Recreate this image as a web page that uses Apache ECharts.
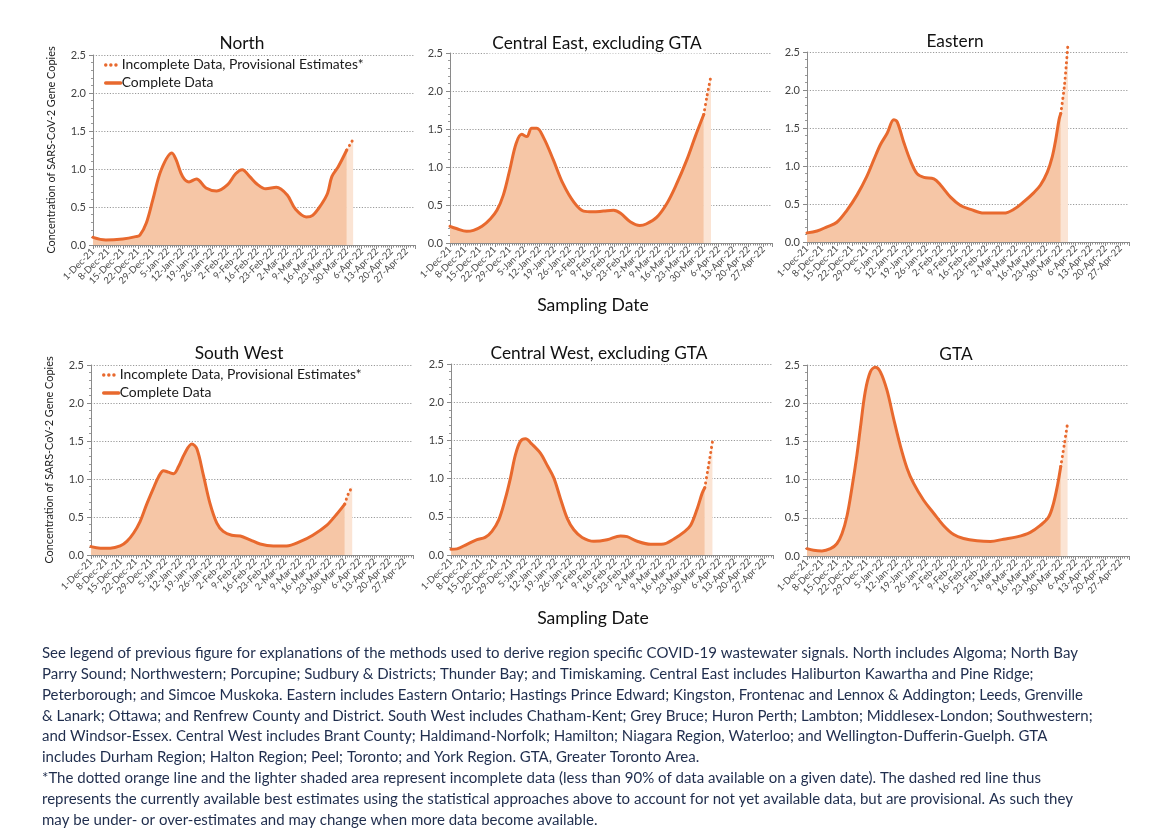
<!DOCTYPE html>
<html><head><meta charset="utf-8">
<script src="https://cdn.jsdelivr.net/npm/echarts@6/dist/echarts.min.js"></script>
<style>html,body{margin:0;padding:0;background:#fff}#c{width:1160px;height:829px}</style>
</head><body><div id="c"></div>
<script>
// ---------- tick labels ----------
const xTickLabels = ['1-Dec-21','8-Dec-21','15-Dec-21','22-Dec-21','29-Dec-21','5-Jan-22','12-Jan-22','19-Jan-22','26-Jan-22','2-Feb-22','9-Feb-22','16-Feb-22','23-Feb-22','2-Mar-22','9-Mar-22','16-Mar-22','23-Mar-22','30-Mar-22','6-Apr-22','13-Apr-22','20-Apr-22','27-Apr-22'];
const yTickValues = [0, 0.5, 1.0, 1.5, 2.0, 2.5];

// ---------- data (x = days since 1-Dec-21) ----------
const northDays = [0,6,14,20,22,25,28,32,37,39,42,45,48.5,53,58,63,67,70,73.5,77,81,86,91,95,100,103,107,110,112,115,119];
const northVals = [0.10,0.066,0.08,0.11,0.13,0.29,0.59,0.99,1.21,1.12,0.90,0.83,0.87,0.75,0.71,0.79,0.94,0.99,0.90,0.80,0.74,0.76,0.66,0.47,0.37,0.39,0.53,0.68,0.90,1.03,1.25];
const northIncDays = [119,120.5,122];
const northIncVals = [1.25,1.32,1.39];

const ceDays = [0,3,7.8,11,15,19,22,25,28,31,33.6,36,38.3,40.7,44,48.5,53,58,62.6,67,72,76.7,80,84.5,89,92,97,101.7,106,111,115,119];
const ceVals = [0.22,0.19,0.154,0.167,0.22,0.32,0.43,0.63,0.96,1.31,1.43,1.40,1.51,1.51,1.38,1.09,0.78,0.54,0.42,0.41,0.42,0.43,0.39,0.28,0.23,0.25,0.34,0.52,0.76,1.09,1.40,1.69];
const ceIncDays = [119,120.5,122.4];
const ceIncVals = [1.69,1.93,2.20];

const eDays = [0,4.7,9.4,14,18.8,23.5,28,31.3,34.4,37.6,40.7,42.3,45.4,48.5,51.6,54.8,59.5,62.6,67.3,72,76.7,82.9,87.6,92.3,97,101.7,106.4,109.5,112.7,115,116.6,118.2,119];
const eVals = [0.12,0.145,0.20,0.26,0.42,0.62,0.86,1.08,1.28,1.43,1.61,1.58,1.31,1.07,0.90,0.85,0.83,0.75,0.59,0.48,0.43,0.38,0.38,0.38,0.43,0.53,0.65,0.75,0.92,1.12,1.34,1.61,1.69];
const eIncDays = [119,120.7,122.4];
const eIncVals = [1.69,2.05,2.61];

const swDays = [0,4.4,9,13.7,16.8,20,23,26,29.3,31.7,34,36.3,38.7,41,44,47.3,49.6,52.7,55.8,59,62,66,70,74.6,79.3,85.5,91.7,98,104,110.5,115,119];
const swVals = [0.11,0.09,0.09,0.12,0.18,0.29,0.44,0.66,0.88,1.03,1.11,1.09,1.07,1.16,1.34,1.46,1.40,1.05,0.68,0.42,0.31,0.26,0.25,0.20,0.145,0.12,0.12,0.175,0.26,0.39,0.53,0.67];
const swIncDays = [119,120.6,122.5];
const swIncVals = [0.67,0.80,0.90];

const cwDays = [0,2.8,7.5,12.2,16,19.2,22.4,25.5,27.9,30.2,32.6,34.9,38,42,45,48.2,51.3,54.5,57.6,61.5,67,73.2,79.5,82.6,87.3,93.6,99.8,104.5,109.2,112.4,115.5,117.8,119];
const cwVals = [0.074,0.08,0.14,0.20,0.23,0.31,0.46,0.74,1.01,1.31,1.49,1.52,1.45,1.33,1.18,1.01,0.74,0.48,0.33,0.23,0.18,0.20,0.25,0.24,0.18,0.14,0.145,0.21,0.30,0.39,0.61,0.81,0.88];
const cwIncDays = [119,120.6,122.6];
const cwIncVals = [0.88,1.14,1.48];

const gtaDays = [0,3.1,7,11,14,16.4,18.8,21,23.4,25,27.3,29.7,32,34.4,37.5,40.6,43.7,46.9,50,54.7,59.4,64,68.8,73.4,79.7,86,92.2,98.4,104.7,109.4,113.3,115.6,117.5,119];
const gtaVals = [0.096,0.074,0.066,0.096,0.16,0.29,0.53,0.88,1.32,1.67,2.15,2.41,2.47,2.41,2.17,1.80,1.45,1.15,0.95,0.73,0.56,0.40,0.28,0.23,0.20,0.19,0.22,0.25,0.31,0.40,0.51,0.69,0.93,1.17];
const gtaIncDays = [119,120.6,122.2];
const gtaIncVals = [1.17,1.45,1.74];

const panelTitles = ['North','Central East, excluding GTA','Eastern','South West','Central West, excluding GTA','GTA'];
const seriesNames = ['Incomplete Data, Provisional Estimates*','Complete Data'];
const yAxisName = 'Concentration of SARS-CoV-2 Gene Copies';
const xAxisName = 'Sampling Date';
const captionLines = [
 'See legend of previous figure for explanations of the methods used to derive region specific COVID-19 wastewater signals. North includes Algoma; North Bay',
 'Parry Sound; Northwestern; Porcupine; Sudbury & Districts; Thunder Bay; and Timiskaming. Central East includes Haliburton Kawartha and Pine Ridge;',
 'Peterborough; and Simcoe Muskoka. Eastern includes Eastern Ontario; Hastings Prince Edward; Kingston, Frontenac and Lennox & Addington; Leeds, Grenville',
 '& Lanark; Ottawa; and Renfrew County and District. South West includes Chatham-Kent; Grey Bruce; Huron Perth; Lambton; Middlesex-London; Southwestern;',
 'and Windsor-Essex. Central West includes Brant County; Haldimand-Norfolk; Hamilton; Niagara Region, Waterloo; and Wellington-Dufferin-Guelph. GTA',
 'includes Durham Region; Halton Region; Peel; Toronto; and York Region. GTA, Greater Toronto Area.',
 '*The dotted orange line and the lighter shaded area represent incomplete data (less than 90% of data available on a given date). The dashed red line thus',
 'represents the currently available best estimates using the statistical approaches above to account for not yet available data, but are provisional. As such they',
 'may be under- or over-estimates and may change when more data become available.'
];

// ---------- layout & style ----------
const regions = [
 {days:northDays, vals:northVals, incDays:northIncDays, incVals:northIncVals},
 {days:ceDays, vals:ceVals, incDays:ceIncDays, incVals:ceIncVals},
 {days:eDays, vals:eVals, incDays:eIncDays, incVals:eIncVals},
 {days:swDays, vals:swVals, incDays:swIncDays, incVals:swIncVals},
 {days:cwDays, vals:cwVals, incDays:cwIncDays, incVals:cwIncVals},
 {days:gtaDays, vals:gtaVals, incDays:gtaIncDays, incVals:gtaIncVals}
];
const layout = [
 {left:93, top:55, h:190, tx:242, ty:43, yName:true, legend:{left:104, top:58}},
 {left:450, top:53, h:190, tx:597, ty:43},
 {left:807, top:52, h:190, tx:955, ty:41},
 {left:91, top:365, h:190, tx:239, ty:353, yName:true, legend:{left:102, top:368}},
 {left:451, top:364, h:191, tx:599, ty:353},
 {left:807, top:365, h:191, tx:956, ty:354}
];
const GRID_W = 322;
const X_MAX = 151;
const LINE = '#E8692E', FILL = '#F6C6A6', FILL_INC = '#FBE4D4';
const FONT = 'Lato';

function zip(a, b) { return a.map((d, i) => [d, b[i]]); }

const grids = [], xAxes = [], yAxes = [], series = [], legends = [], graphics = [];
layout.forEach((L, i) => {
  grids.push({left:L.left, top:L.top, width:GRID_W, height:L.h, containLabel:false});
  xAxes.push({
    type:'value', gridIndex:i, min:0, max:X_MAX, interval:7,
    axisLine:{show:true, lineStyle:{color:'#8a8a8a', width:1}},
    axisTick:{show:true, length:4, lineStyle:{color:'#8a8a8a'}},
    minorTick:{show:true, splitNumber:7, length:2.5, lineStyle:{color:'#8a8a8a'}},
    splitLine:{show:false},
    axisLabel:{rotate:45, fontSize:9.5, fontFamily:FONT, color:'#4a4a4a', margin:5, showMaxLabel:true,
      formatter: v => (v % 7 === 0 && xTickLabels[v/7]) ? xTickLabels[v/7] : ''}
  });
  yAxes.push({
    type:'value', gridIndex:i, min:0, max:2.5, interval:0.5,
    name: L.yName ? yAxisName : '', nameLocation:'middle', nameGap:36, nameRotate:90,
    nameTextStyle:{fontSize:10.9, fontFamily:FONT, color:'#222'},
    axisLine:{show:true, lineStyle:{color:'#8a8a8a', width:1}},
    axisTick:{show:true, length:4, lineStyle:{color:'#8a8a8a'}},
    minorTick:{show:true, splitNumber:5, length:2, lineStyle:{color:'#9a9a9a'}},
    splitLine:{show:true, lineStyle:{color:'#9a9a9a', type:[1.2,1.6], width:1}},
    axisLabel:{fontSize:11, fontFamily:FONT, color:'#404040', margin:7,
      formatter: v => yTickValues.indexOf(v) >= 0 ? v.toFixed(1) : ''}
  });
  const R = regions[i];
  series.push({
    name:seriesNames[0], type:'line', xAxisIndex:i, yAxisIndex:i, data:zip(R.incDays, R.incVals),
    symbol:'none', smooth:0.3, clip:false, z:2,
    lineStyle:{color:LINE, width:3, type:[0.1,5], cap:'round'},
    itemStyle:{color:LINE},
    areaStyle:{color:FILL_INC, opacity:1}
  });
  series.push({
    name:seriesNames[1], type:'line', xAxisIndex:i, yAxisIndex:i, data:zip(R.days, R.vals),
    symbol:'none', smooth:0.35, clip:false, z:3,
    lineStyle:{color:LINE, width:3, cap:'round', join:'round'},
    itemStyle:{color:LINE},
    areaStyle:{color:FILL, opacity:1}
  });
  if (L.legend) {
    legends.push({
      data:seriesNames, orient:'vertical', left:L.legend.left, top:L.legend.top,
      itemWidth:15, itemHeight:12, itemGap:4, padding:0, selectedMode:false,
      itemStyle:{opacity:0},
      lineStyle:{width:3.4},
      textStyle:{fontSize:13.9, fontFamily:FONT, color:'#1a1a1a', padding:[0,0,0,-4]}
    });
  }
  graphics.push({
    type:'text', z:100, x:L.tx, y:L.ty,
    style:{text:panelTitles[i], font:'17.3px ' + FONT, fill:'#111', align:'center', verticalAlign:'middle',
      backgroundColor:'#fff', padding:[2,4]}
  });
});

graphics.push({type:'text', z:100, x:593, y:305, style:{text:xAxisName, font:'17.6px ' + FONT, fill:'#111', align:'center', verticalAlign:'middle'}});
graphics.push({type:'text', z:100, x:593, y:618, style:{text:xAxisName, font:'17.6px ' + FONT, fill:'#111', align:'center', verticalAlign:'middle'}});

// caption font size fitted to the reference line width
const capFamily = 'Lato';
const cv = document.createElement('canvas').getContext('2d');
cv.font = '100px ' + capFamily;
const capSize = 100 * 1037 / cv.measureText(captionLines[0]).width;
captionLines.forEach((t, k) => {
  graphics.push({type:'text', z:100, x:42, y:653 + k * 20.9,
    style:{text:t, font: capSize.toFixed(2) + 'px ' + capFamily, fill:'#1f2d4d', align:'left', verticalAlign:'middle'}});
});

const chart = echarts.init(document.getElementById('c'));
chart.setOption({
  animation:false,
  backgroundColor:'#fff',
  grid:grids, xAxis:xAxes, yAxis:yAxes, series:series, legend:legends,
  graphic:{elements:graphics}
});
</script></body></html>
